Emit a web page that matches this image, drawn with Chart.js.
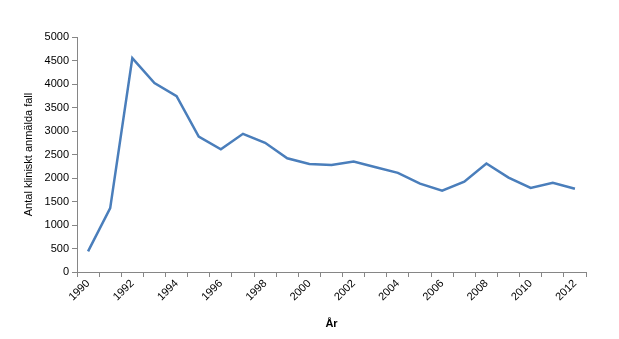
<!DOCTYPE html>
<html>
<head>
<meta charset="utf-8">
<script src="https://cdn.jsdelivr.net/npm/chart.js@4/dist/chart.umd.min.js"></script>
<style>
  html, body { margin: 0; padding: 0; background: #fff; }
  #wrap { width: 619px; height: 339px; }
</style>
</head>
<body>
<div id="wrap"><canvas id="chart"></canvas></div>
<script>
// År 1990-2012
const years = ["1990","1991","1992","1993","1994","1995","1996","1997","1998","1999","2000","2001",
  "2002","2003","2004","2005","2006","2007","2008","2009","2010","2011","2012"];
// Antal kliniskt anmälda fall
const cases = [440, 1360, 4550, 4020, 3740, 2880, 2610, 2940, 2750, 2420, 2300, 2275,
  2350, 2230, 2110, 1880, 1730, 1920, 2310, 2010, 1790, 1900, 1770];
const yTicks = [0, 500, 1000, 1500, 2000, 2500, 3000, 3500, 4000, 4500, 5000];

const axisColor = "#868686";
const font = { family: "Liberation Sans", size: 11 };

new Chart(document.getElementById("chart").getContext("2d"), {
  type: "line",
  data: {
    labels: years,
    datasets: [{
      data: cases,
      borderColor: "#4a7ebb",
      borderWidth: 2.5,
      pointRadius: 0,
      tension: 0,
      fill: false
    }]
  },
  options: {
    responsive: true,
    maintainAspectRatio: false,
    animation: false,
    layout: { padding: { top: 37, right: 33, left: 20, bottom: 4 } },
    plugins: { legend: { display: false }, tooltip: { enabled: false } },
    scales: {
      x: {
        offset: true,
        grid: { offset: true, drawOnChartArea: false, color: axisColor, tickLength: 5 },
        border: { color: axisColor },
        ticks: {
          autoSkip: false,
          maxRotation: 45,
          minRotation: 45,
          color: "#000",
          font: font,
          padding: 0,
          callback: (v, i) => (i % 2 === 0 ? years[i] : "")
        },
        title: { display: true, text: "År", color: "#000", font: { family: "Liberation Sans", size: 11, weight: "bold" }, padding: { top: 4 } },
        afterFit: s => { s.height = 339 - 272 - 4; }
      },
      y: {
        min: 0,
        max: 5000,
        afterBuildTicks: s => { s.ticks = yTicks.map(v => ({ value: v })); },
        grid: { drawOnChartArea: false, color: axisColor, tickLength: 5 },
        border: { color: axisColor },
        ticks: { color: "#000", font: font, padding: 3, callback: v => String(v) },
        title: { display: true, text: "Antal kliniskt anmälda fall", color: "#000", font: { family: "Liberation Sans", size: 11 }, padding: 2 },
        afterFit: s => { s.width = 77 - 20; }
      }
    }
  }
});
</script>
</body>
</html>
